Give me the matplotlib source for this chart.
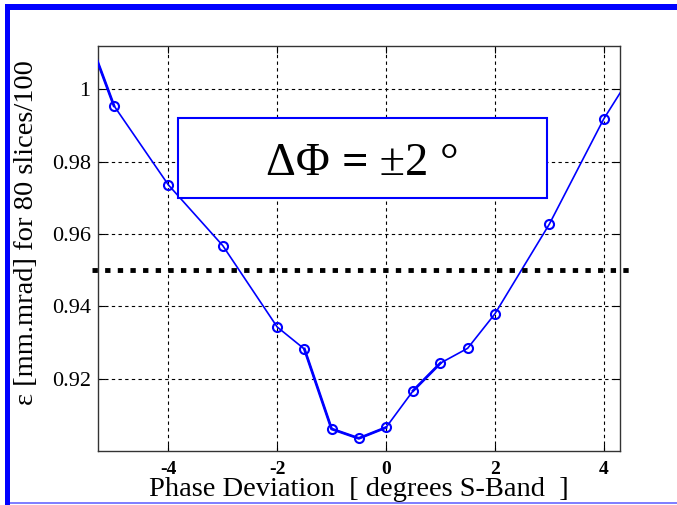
import matplotlib
matplotlib.use('Agg')
import matplotlib.pyplot as plt
from matplotlib.patches import Rectangle
from matplotlib.offsetbox import TextArea, HPacker, AnnotationBbox

plt.rcParams['font.family'] = ['Liberation Serif', 'DejaVu Serif']

# desviacion de fase [grados S-band] y emitancia
phase = [-5, -4, -3, -2, -1.5, -1, -0.5, 0, 0.5, 1, 1.5, 2, 3, 4]
emit = [0.9955, 0.9736, 0.9568, 0.9343, 0.9282, 0.9061, 0.9035, 0.9065,
        0.9167, 0.9243, 0.9284, 0.9379, 0.9627, 0.9918]
# puntos de los extremos (fuera de la ventana, sin marcador)
phase_ext = [-6] + phase + [5]
emit_ext = [1.036] + emit + [1.0157]
limit = 0.95
xticks = [-4, -2, 0, 2, 4]
yticks = [0.92, 0.94, 0.96, 0.98, 1]
ytick_labels = ['0.92', '0.94', '0.96', '0.98', '1']
box_parts = ['ΔΦ ', '=', ' ±2 °']

W, H = 677, 505
fig = plt.figure(figsize=(W / 100, H / 100), dpi=100)
ax = fig.add_axes([97.6 / W, 1 - 451 / H, (620 - 97.6) / W, (451 - 46) / H])

blue = '#0000ff'
ax.plot(phase_ext, emit_ext, color=blue, lw=1.2, zorder=3)
# tramos que se ven mas gruesos
ax.plot(phase_ext[:2], emit_ext[:2], color=blue, lw=2.0, zorder=3)
ax.plot(phase[4:8], emit[4:8], color=blue, lw=2.0, zorder=3)
ax.plot(phase[8:10], emit[8:10], color=blue, lw=2.0, zorder=3)
ax.plot(phase, emit, 'o', ms=6.5, mfc='none', mec=blue, mew=1.5, zorder=4)

# linea de referencia punteada
ax.plot([-5.4, 4.5], [limit, limit], color='black', lw=3.5,
        linestyle=(0, (1.1, 1.5)), clip_on=False, zorder=5, solid_capstyle='butt')

ax.set_xlim(-5.3, 4.3)
ax.set_ylim(0.90, 1.012)
ax.set_xticks(xticks)
ax.set_xticklabels([str(t) for t in xticks], fontsize=14, fontweight='bold')
ax.set_yticks(yticks)
ax.set_yticklabels(ytick_labels, fontsize=16)
ax.tick_params(direction='in', length=5, top=True, right=True, width=0.8)
ax.tick_params(axis='x', pad=7)
ax.tick_params(axis='y', pad=5)
ax.grid(True, color='black', linestyle=(0, (3, 3)), lw=0.8)
for s in ax.spines.values():
    s.set_color('#333333')
    s.set_linewidth(1.0)

fig.text(359 / W, 1 - 489 / H, 'Phase Deviation  [ degrees S-Band  ]', fontsize=20.5,
         ha='center', va='center')
fig.text(27 / W, 1 - 233 / H, 'ε [mm.mrad] for 80 slices/100', fontsize=20.5,
         rotation=90, ha='center', va='center')

# recuadro con el texto
x0, x1 = (178 - 97.6) / 522.4, (547 - 97.6) / 522.4
y0, y1 = (451 - 198) / 405, (451 - 118) / 405
ax.add_patch(Rectangle((x0, y0), x1 - x0, y1 - y0, transform=ax.transAxes,
                       facecolor='white', edgecolor=blue, lw=1.5, zorder=6))
parts = [TextArea(p, textprops=dict(fontsize=33.5, fontweight='bold' if p == '=' else 'normal'))
         for p in box_parts]
pack = HPacker(children=parts, pad=0, sep=0, align='baseline')
ab = AnnotationBbox(pack, ((x0 + x1) / 2, (y0 + y1) / 2 - 0.015), xycoords='axes fraction',
                    frameon=False, zorder=7)
ax.add_artist(ab)

# marco azul de la diapositiva
fig.add_artist(Rectangle((4.5 / W, 1 - 9.5 / H), 1, 5 / H, transform=fig.transFigure,
                         facecolor=blue, edgecolor='none'))
fig.add_artist(Rectangle((4.5 / W, 0), 5 / W, 1 - 4.5 / H, transform=fig.transFigure,
                         facecolor=blue, edgecolor='none'))
fig.add_artist(Rectangle((9.5 / W, 1 - 503.5 / H), 1, 1.2 / H, transform=fig.transFigure,
                         facecolor='#8080ff', edgecolor='none'))

fig.savefig('out.png', dpi=100)
